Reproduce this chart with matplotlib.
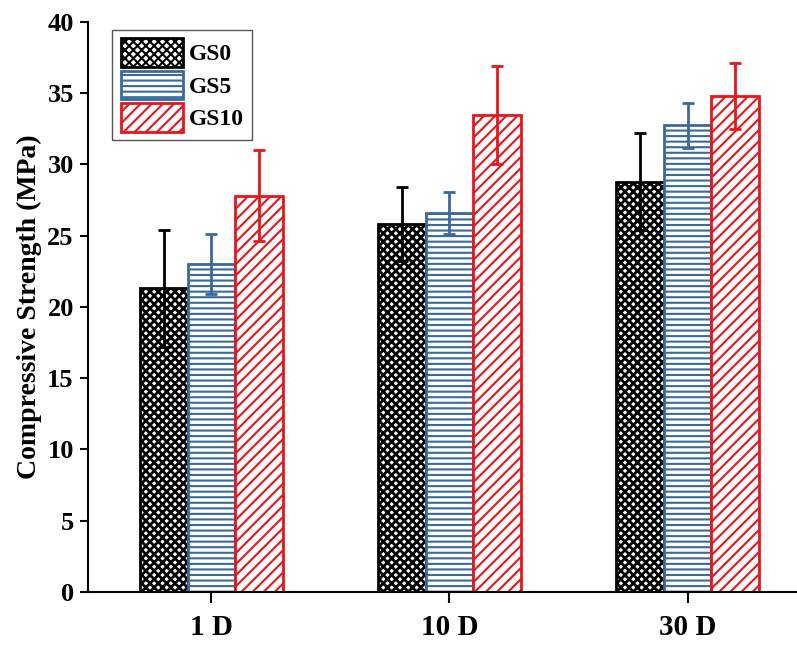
import numpy as np
import matplotlib
matplotlib.use("Agg")
import matplotlib.pyplot as plt

plt.rcParams['font.family'] = ['Liberation Serif', 'DejaVu Serif']
plt.rcParams['font.weight'] = 'bold'

# data
ages = ['1 D', '10 D', '30 D']
series = ['GS0', 'GS5', 'GS10']
gs0 = [21.3, 25.8, 28.8]
gs5 = [23.0, 26.6, 32.75]
gs10 = [27.8, 33.45, 34.8]
gs0_err = [4.1, 2.6, 3.4]
gs5_err = [2.1, 1.5, 1.6]
gs10_err = [3.2, 3.45, 2.3]

colors = ['black', '#3a6a9c', '#e8161c']
hatches = ['xxxx', '---', '///']
hatch_lw = [2.0, 1.5, 1.5]
values = [gs0, gs5, gs10]
errors = [gs0_err, gs5_err, gs10_err]

fig = plt.figure(figsize=(7.97, 6.45), dpi=100)
ax = fig.add_axes([0.110, 0.0822, 0.890, 0.8837])

x = np.arange(len(ages))
w = 0.2
for i, name in enumerate(series):
    plt.rcParams['hatch.linewidth'] = hatch_lw[i]
    pos = x + (i - 1) * w
    bars = ax.bar(pos, values[i], width=w, facecolor='white', edgecolor=colors[i],
                  hatch=hatches[i], linewidth=2, label=name, zorder=2)
    for b in bars:
        if hasattr(b, 'set_hatch_linewidth'):
            b.set_hatch_linewidth(hatch_lw[i])
    ax.errorbar(pos, values[i], yerr=errors[i], fmt='none', ecolor=colors[i],
                elinewidth=2, capsize=4.5, capthick=2, zorder=3)

ax.set_xlim(-0.52, 2.46)
ax.set_ylim(0, 40)
ax.set_yticks(range(0, 41, 5))
ax.set_xticks(x)
ax.set_xticklabels(ages, fontsize=21, fontweight='bold')
for lab in ax.get_yticklabels():
    lab.set_fontsize(19)
    lab.set_fontweight('bold')
ax.set_ylabel('Compressive Strength (MPa)', fontsize=20, fontweight='bold', labelpad=4)

ax.spines['top'].set_visible(False)
ax.spines['right'].set_visible(False)
ax.spines['left'].set_linewidth(1.5)
ax.spines['bottom'].set_linewidth(1.5)
ax.tick_params(axis='y', direction='out', length=6, width=1.5, pad=4)
ax.tick_params(axis='x', direction='out', length=8, width=1.5, pad=8)

leg = ax.legend(loc='upper left', bbox_to_anchor=(0.035, 0.986), fontsize=17,
                handlelength=2.65, handleheight=1.5, handletextpad=0.25,
                labelspacing=0.15, borderpad=0.35, borderaxespad=0, fancybox=False,
                edgecolor='#555555', framealpha=1)
leg.get_frame().set_linewidth(1.0)
for t in leg.get_texts():
    t.set_fontweight('bold')

fig.savefig('out.png', dpi=100)
